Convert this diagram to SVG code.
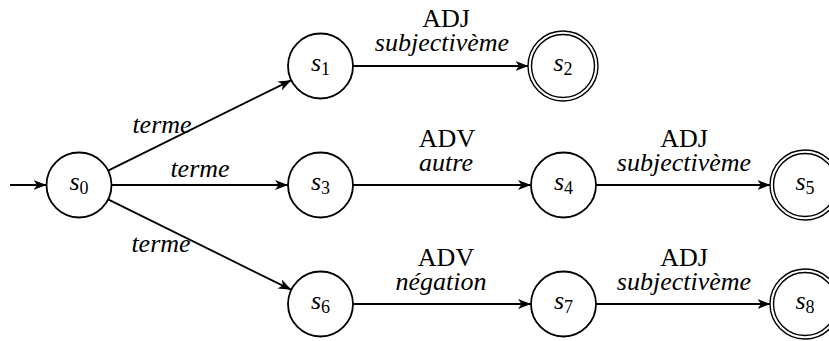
<svg xmlns="http://www.w3.org/2000/svg" width="829" height="341" viewBox="0 0 829 341">
<defs>
<marker id="arr" viewBox="0 0 13 10" refX="12.5" refY="5" markerWidth="13" markerHeight="10" markerUnits="userSpaceOnUse" orient="auto">
<path d="M0,0 L13,5 L0,10 L3.5,5 Z" fill="#000"/>
</marker>
</defs>
<style>
.st{fill:#fff;stroke:#000;stroke-width:1.8}
.acc{fill:#fff;stroke:#000;stroke-width:1.4}
.e{stroke:#000;stroke-width:1.8;fill:none;marker-end:url(#arr)}
text{font-family:"Liberation Serif","Times New Roman",serif;fill:#000;font-size:26px;text-anchor:middle}
.it{font-style:italic}
.sub{font-size:18px;font-style:normal}
</style>
<rect width="829" height="341" fill="#fff"/>
<g id="edges">
<line class="e" x1="10" y1="185" x2="46" y2="185"/>
<line class="e" x1="108.1" y1="170.6" x2="290.9" y2="80.4"/>
<line class="e" x1="111.5" y1="185" x2="287.5" y2="185"/>
<line class="e" x1="108.1" y1="199.4" x2="290.9" y2="289.6"/>
<line class="e" x1="353" y1="66" x2="528" y2="66"/>
<line class="e" x1="353" y1="185" x2="530.5" y2="185"/>
<line class="e" x1="596" y1="185" x2="770" y2="185"/>
<line class="e" x1="353" y1="304" x2="530.5" y2="304"/>
<line class="e" x1="596" y1="304" x2="770" y2="304"/>
</g>
<g id="labels">
<text class="it" x="162" y="133">terme</text>
<text class="it" x="200" y="177">terme</text>
<text class="it" x="161" y="252">terme</text>
<text x="446" y="27">ADJ</text>
<text class="it" x="442" y="51">subjectivème</text>
<text x="447" y="147">ADV</text>
<text class="it" x="446" y="171">autre</text>
<text x="684" y="147">ADJ</text>
<text class="it" x="684" y="171">subjectivème</text>
<text x="446" y="266">ADV</text>
<text class="it" x="441" y="290">négation</text>
<text x="684" y="266">ADJ</text>
<text class="it" x="684" y="290">subjectivème</text>
</g>
<g id="s0"><circle class="st" cx="79" cy="185" r="32.5"/><text x="79" y="190"><tspan class="it">s</tspan><tspan class="sub" dy="4">0</tspan></text></g>
<g id="s1"><circle class="st" cx="320.5" cy="66" r="32.5"/><text x="320.5" y="71"><tspan class="it">s</tspan><tspan class="sub" dy="4">1</tspan></text></g>
<g id="s2"><circle class="acc" cx="563" cy="66" r="35"/><circle class="acc" cx="563" cy="66" r="31.5"/><text x="563" y="71"><tspan class="it">s</tspan><tspan class="sub" dy="4">2</tspan></text></g>
<g id="s3"><circle class="st" cx="320.5" cy="185" r="32.5"/><text x="320.5" y="190"><tspan class="it">s</tspan><tspan class="sub" dy="4">3</tspan></text></g>
<g id="s4"><circle class="st" cx="563.5" cy="185" r="32.5"/><text x="563.5" y="190"><tspan class="it">s</tspan><tspan class="sub" dy="4">4</tspan></text></g>
<g id="s5"><circle class="acc" cx="805" cy="185" r="35"/><circle class="acc" cx="805" cy="185" r="31.5"/><text x="805" y="190"><tspan class="it">s</tspan><tspan class="sub" dy="4">5</tspan></text></g>
<g id="s6"><circle class="st" cx="320.5" cy="304" r="32.5"/><text x="320.5" y="309"><tspan class="it">s</tspan><tspan class="sub" dy="4">6</tspan></text></g>
<g id="s7"><circle class="st" cx="563.5" cy="304" r="32.5"/><text x="563.5" y="309"><tspan class="it">s</tspan><tspan class="sub" dy="4">7</tspan></text></g>
<g id="s8"><circle class="acc" cx="805" cy="304" r="35"/><circle class="acc" cx="805" cy="304" r="31.5"/><text x="805" y="309"><tspan class="it">s</tspan><tspan class="sub" dy="4">8</tspan></text></g>
</svg>
